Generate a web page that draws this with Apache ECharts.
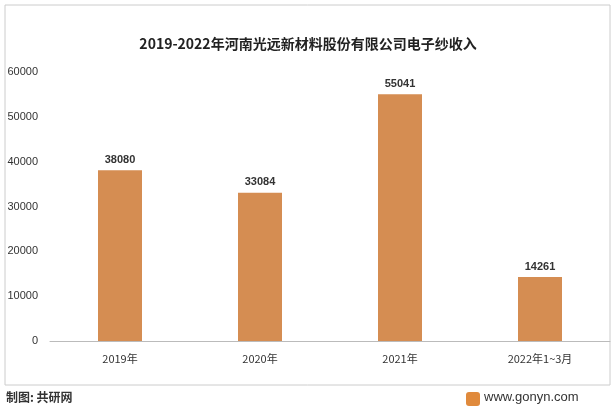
<!DOCTYPE html>
<html><head><meta charset="utf-8">
<script src="https://cdn.jsdelivr.net/npm/echarts@6/dist/echarts.min.js"></script>
<style>html,body{margin:0;padding:0;background:#fff}#c{width:616px;height:412px}</style>
</head><body><div id="c"></div>
<script>
const categories = ['2019年','2020年','2021年','2022年1~3月'];
const values = [38080, 33084, 55041, 14261];
const yTicks = [0,10000,20000,30000,40000,50000,60000];
const chart = echarts.init(document.getElementById('c'));
chart.setOption({
  animation:false,
  title:{text:'2019-2022年河南光远新材料股份有限公司电子纱收入',left:'center',top:32,
    textStyle:{fontSize:14,fontWeight:'bold',color:'#222',fontFamily:'Noto Sans CJK SC'}},
  grid:{left:50,right:6,top:72,bottom:71},
  xAxis:{type:'category',data:categories,axisTick:{show:false},
    axisLine:{lineStyle:{color:'#bbb'}},
    axisLabel:{color:'#333',fontSize:11,margin:12,fontFamily:'Noto Sans CJK SC'}},
  yAxis:{type:'value',min:yTicks[0],max:yTicks[yTicks.length-1],interval:10000,
    splitLine:{show:false},axisLine:{show:false},axisTick:{show:false},
    axisLabel:{color:'#333',fontSize:11,margin:12,formatter:v=>String(v)}},
  series:[{type:'bar',data:values,barWidth:44,itemStyle:{color:'#D58D52'},
    label:{show:true,position:'top',color:'#333',fontWeight:'bold',fontSize:11}}],
  graphic:[
    {type:'rect',shape:{x:5,y:5,width:605,height:380},style:{fill:'none',stroke:'#ccc',lineWidth:1}},
    {type:'text',left:6,top:391,style:{text:'制图: 共研网',fontSize:12,fontWeight:'bold',fill:'#333',fontFamily:'Noto Sans CJK SC'}},
    {type:'rect',shape:{x:466,y:392,width:14,height:14,r:3},style:{fill:'#E08A3C'}},
    {type:'text',left:484,top:391,style:{text:'www.gonyn.com',fontSize:13,fill:'#333'}}
  ]
});
</script></body></html>
